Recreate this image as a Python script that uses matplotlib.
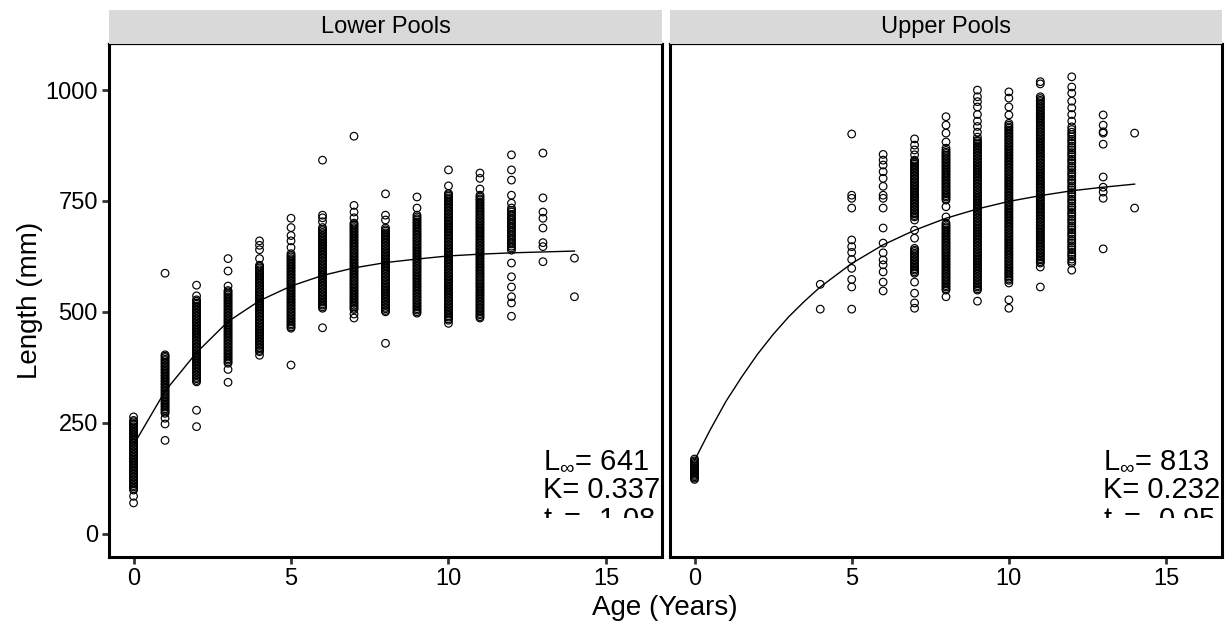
import numpy as np
import matplotlib
matplotlib.use("Agg")
import matplotlib.pyplot as plt
from matplotlib.patches import Rectangle

plt.rcParams['font.family'] = ['Liberation Sans', 'DejaVu Sans']
plt.rcParams['mathtext.fontset'] = 'custom'
plt.rcParams['mathtext.rm'] = 'Liberation Sans'
plt.rcParams['mathtext.it'] = 'Liberation Sans:italic'

# 面板名称
panels = ['Lower Pools', 'Upper Pools']

# 各年龄的体长观测值 (mm)，按年龄 0..14 排列
lower_lengths = [
    # 0
    [69, 84, 98, 101, 105, 108, 112, 115, 119, 122, 126, 129, 133, 136, 140, 143, 147, 150, 154, 157,
     161, 164, 168, 171, 175, 178, 182, 185, 189, 192, 196, 199, 203, 206, 210, 213, 217, 220, 224,
     227, 231, 234, 238, 241, 245, 248, 252, 255, 263],
    # 1
    [210, 247, 260, 271, 274, 278, 281, 285, 288, 292, 295, 299, 302, 306, 309, 313, 316, 320, 323,
     327, 330, 334, 337, 341, 344, 348, 351, 355, 358, 362, 365, 369, 372, 376, 379, 383, 386, 390,
     393, 397, 400, 403, 587],
    # 2
    [241, 278, 342, 345, 349, 352, 356, 359, 363, 366, 370, 373, 377, 380, 384, 387, 391, 394, 398,
     401, 405, 408, 412, 415, 419, 422, 426, 429, 433, 436, 440, 443, 447, 450, 454, 457, 461, 464,
     468, 471, 475, 478, 482, 485, 489, 492, 496, 499, 503, 506, 510, 513, 517, 520, 524, 527, 536, 560],
    # 3
    [341, 370, 384, 387, 391, 394, 398, 401, 405, 408, 412, 415, 419, 422, 426, 429, 433, 436, 440,
     443, 447, 450, 454, 457, 461, 464, 468, 471, 475, 478, 482, 485, 489, 492, 496, 499, 503, 506,
     510, 513, 517, 520, 524, 527, 531, 534, 538, 541, 545, 548, 558, 592, 620],
    # 4
    [402, 410, 413, 417, 420, 424, 427, 431, 434, 438, 441, 445, 448, 452, 455, 459, 462, 466, 469,
     473, 476, 480, 483, 487, 490, 494, 497, 501, 504, 508, 511, 515, 518, 522, 525, 529, 532, 536,
     539, 543, 546, 550, 553, 557, 560, 564, 567, 571, 574, 578, 581, 585, 588, 592, 595, 599, 602,
     605, 620, 640, 650, 660],
    # 5
    [380, 463, 466, 470, 473, 477, 480, 484, 487, 491, 494, 498, 501, 505, 508, 512, 515, 519, 522,
     526, 529, 533, 536, 540, 543, 547, 550, 554, 557, 561, 564, 568, 571, 575, 578, 582, 585, 589,
     592, 596, 599, 603, 606, 610, 613, 617, 620, 624, 627, 631, 645, 660, 672, 690, 711],
    # 6
    [464, 508, 511, 515, 518, 522, 525, 529, 532, 536, 539, 543, 546, 550, 553, 557, 560, 564, 567,
     571, 574, 578, 581, 585, 588, 592, 595, 599, 602, 606, 609, 613, 616, 620, 623, 627, 630, 634,
     637, 641, 644, 648, 651, 655, 658, 662, 665, 669, 672, 676, 679, 683, 686, 690, 703, 712, 718, 842],
    # 7
    [486, 495, 505, 508, 512, 515, 519, 522, 526, 529, 533, 536, 540, 543, 547, 550, 554, 557, 561,
     564, 568, 571, 575, 578, 582, 585, 589, 592, 596, 599, 603, 606, 610, 613, 617, 620, 624, 627,
     631, 634, 638, 641, 645, 648, 652, 655, 659, 662, 666, 669, 673, 676, 680, 683, 687, 690, 694,
     697, 700, 712, 725, 740, 896],
    # 8
    [429, 500, 503, 507, 510, 514, 517, 521, 524, 528, 531, 535, 538, 542, 545, 549, 552, 556, 559,
     563, 566, 570, 573, 577, 580, 584, 587, 591, 594, 598, 601, 605, 608, 612, 615, 619, 622, 626,
     629, 633, 636, 640, 643, 647, 650, 654, 657, 661, 664, 668, 671, 675, 678, 682, 685, 689, 707,
     718, 766],
    # 9
    [497, 500, 504, 507, 511, 514, 518, 521, 525, 528, 532, 535, 539, 542, 546, 549, 553, 556, 560,
     563, 567, 570, 574, 577, 581, 584, 588, 591, 595, 598, 602, 605, 609, 612, 616, 619, 623, 626,
     630, 633, 637, 640, 644, 647, 651, 654, 658, 661, 665, 668, 672, 675, 679, 682, 686, 689, 693,
     696, 700, 703, 707, 710, 714, 718, 734, 759],
    # 10
    [474, 481, 484, 488, 491, 495, 498, 502, 505, 509, 512, 516, 519, 523, 526, 530, 533, 537, 540,
     544, 547, 551, 554, 558, 561, 565, 568, 572, 575, 579, 582, 586, 589, 593, 596, 600, 603, 607,
     610, 614, 617, 621, 624, 628, 631, 635, 638, 642, 645, 649, 652, 656, 659, 663, 666, 670, 673,
     677, 680, 684, 687, 691, 694, 698, 701, 705, 708, 712, 715, 719, 722, 726, 729, 733, 736, 740,
     743, 747, 750, 754, 757, 761, 764, 767, 784, 820],
    # 11
    [486, 489, 493, 496, 500, 503, 507, 510, 514, 517, 521, 524, 528, 531, 535, 538, 542, 545, 549,
     552, 556, 559, 563, 566, 570, 573, 577, 580, 584, 587, 591, 594, 598, 601, 605, 608, 612, 615,
     619, 622, 626, 629, 633, 636, 640, 643, 647, 650, 654, 657, 661, 664, 668, 671, 675, 678, 682,
     685, 689, 692, 696, 699, 703, 706, 710, 713, 717, 720, 724, 727, 731, 734, 738, 741, 745, 748,
     752, 755, 759, 763, 777, 801, 813],
    # 12
    [490, 520, 534, 556, 579, 610, 639, 644, 648, 653, 657, 662, 666, 671, 675, 680, 684, 689, 693,
     698, 702, 707, 711, 716, 720, 725, 729, 734, 745, 763, 797, 820, 854],
    # 13
    [613, 647, 656, 689, 711, 725, 757, 858],
    # 14
    [534, 621],
]

upper_lengths = [
    # 0
    [122, 125, 128, 131, 134, 137, 140, 143, 146, 149, 152, 155, 158, 161, 164, 168],
    [],
    [],
    [],
    # 4
    [506, 562],
    # 5
    [506, 556, 573, 598, 618, 634, 647, 662, 734, 756, 763, 901],
    # 6
    [547, 567, 590, 606, 617, 633, 655, 689, 734, 756, 763, 783, 801, 816, 831, 842, 855],
    # 7
    [508, 520, 542, 567, 587, 590, 594, 597, 601, 604, 608, 611, 615, 618, 622, 625, 629, 632, 636,
     639, 643, 666, 684, 707, 714, 717, 721, 724, 728, 731, 735, 738, 742, 745, 749, 752, 756, 759,
     763, 766, 770, 773, 777, 780, 784, 787, 791, 794, 798, 801, 805, 808, 812, 815, 819, 822, 826,
     829, 833, 836, 840, 842, 854, 865, 876, 890],
    # 8
    [534, 549, 552, 556, 559, 563, 566, 570, 573, 577, 580, 584, 587, 591, 594, 598, 601, 605, 608,
     612, 615, 619, 622, 626, 629, 633, 636, 640, 643, 647, 650, 654, 657, 661, 664, 668, 671, 675,
     678, 682, 685, 689, 692, 696, 700, 714, 737, 752, 755, 759, 762, 766, 769, 773, 776, 780, 783,
     787, 790, 794, 797, 801, 804, 808, 811, 815, 818, 822, 825, 829, 832, 836, 839, 843, 846, 850,
     853, 857, 860, 864, 869, 883, 903, 921, 940],
    # 9
    [524, 549, 552, 556, 559, 563, 566, 570, 573, 577, 580, 584, 587, 591, 594, 598, 601, 605, 608,
     612, 615, 619, 622, 626, 629, 633, 636, 640, 643, 647, 650, 654, 657, 661, 664, 668, 671, 675,
     678, 682, 685, 689, 692, 696, 699, 703, 706, 710, 713, 717, 720, 724, 727, 731, 734, 738, 741,
     745, 748, 752, 755, 759, 762, 766, 769, 773, 776, 780, 783, 787, 790, 794, 797, 801, 804, 808,
     811, 815, 818, 822, 825, 829, 832, 836, 839, 843, 846, 850, 853, 857, 860, 864, 867, 871, 874,
     878, 881, 885, 887, 894, 905, 918, 930, 945, 962, 974, 985, 1000],
    # 10
    [508, 527, 565, 571, 574, 578, 581, 585, 588, 592, 595, 599, 602, 606, 609, 613, 616, 620, 623,
     627, 630, 634, 637, 641, 644, 648, 651, 655, 658, 662, 665, 669, 672, 676, 679, 683, 686, 690,
     693, 697, 700, 704, 707, 711, 714, 718, 721, 725, 728, 732, 735, 739, 742, 746, 749, 753, 756,
     760, 763, 767, 770, 774, 777, 781, 784, 788, 791, 795, 798, 802, 805, 809, 812, 816, 819, 823,
     826, 830, 833, 837, 840, 844, 847, 851, 854, 858, 861, 865, 868, 872, 875, 879, 882, 886, 889,
     893, 896, 900, 903, 907, 910, 914, 917, 921, 925, 944, 962, 982, 996],
    # 11
    [556, 601, 610, 613, 617, 620, 624, 627, 631, 634, 638, 641, 645, 648, 652, 655, 659, 662, 666,
     669, 673, 676, 680, 683, 687, 690, 694, 697, 701, 704, 708, 711, 715, 718, 722, 725, 729, 732,
     736, 739, 743, 746, 750, 753, 757, 760, 764, 767, 771, 774, 778, 781, 785, 788, 792, 795, 799,
     802, 806, 809, 813, 816, 820, 823, 827, 830, 834, 837, 841, 844, 848, 851, 855, 858, 862, 865,
     869, 872, 876, 879, 883, 886, 890, 893, 897, 900, 904, 907, 911, 914, 918, 921, 925, 928, 932,
     935, 939, 942, 946, 949, 953, 956, 960, 963, 967, 970, 974, 977, 981, 985, 1014, 1019],
    # 12
    [594, 610, 614, 619, 625, 629, 634, 640, 645, 649, 655, 660, 664, 670, 675, 679, 685, 690, 694,
     700, 705, 709, 715, 720, 724, 730, 735, 739, 745, 750, 754, 760, 765, 769, 775, 780, 784, 790,
     795, 799, 805, 810, 814, 820, 825, 829, 835, 840, 844, 850, 855, 859, 865, 870, 874, 880, 885,
     889, 895, 900, 905, 911, 917, 930, 945, 960, 975, 993, 1007, 1030],
    # 13
    [642, 756, 770, 781, 804, 878, 903, 906, 921, 944],
    # 14
    [734, 903],
]

# 拟合的 von Bertalanffy 曲线
lower_fit_age = [0, 1, 2, 3, 4, 5, 6, 7, 8, 9, 10, 11, 12, 13, 14]
lower_fit = [200, 321, 408, 478, 525, 558, 582, 599, 611, 619, 626, 630, 633, 635, 637]
upper_fit_age = [0, 0.5, 1, 1.5, 2, 2.5, 3, 3.5, 4, 5, 6, 7, 8, 9, 10, 11, 12, 13, 14]
upper_fit = [165, 234, 298, 353, 404, 449, 489, 524, 556, 609, 651, 684, 711, 732, 749, 762, 773, 781, 788]

# 参数标注
lower_params = [r'$\mathrm{L}_{\infty}$= 641', 'K= 0.337', r'$\mathrm{t}_{0}$= -1.08']
upper_params = [r'$\mathrm{L}_{\infty}$= 813', 'K= 0.232', r'$\mathrm{t}_{0}$= -0.95']

x_ticks = [0, 5, 10, 15]
y_ticks = [0, 250, 500, 750, 1000]


def draw_panel(fig, rect, title, lengths, fit_age, fit, params):
    ax = fig.add_axes(rect)
    for age, vals in enumerate(lengths):
        if len(vals) == 0:
            continue
        ax.scatter([age] * len(vals), vals, s=30, facecolors='none',
                   edgecolors='black', linewidths=0.85, zorder=2)
    ax.plot(fit_age, fit, color='black', linewidth=1.0, zorder=3)

    ax.set_xlim(-0.78, 16.78)
    ax.set_ylim(-53, 1104)
    ax.set_xticks(x_ticks)
    ax.set_yticks(y_ticks)
    ax.tick_params(axis='both', length=5, width=2, color='#333333',
                   labelsize=17, labelcolor='black', pad=3)
    for side in ['left', 'bottom', 'right']:
        ax.spines[side].set_linewidth(2.2)
    ax.spines['top'].set_linewidth(1.6)

    # 参数文字，底部被裁掉
    clip = Rectangle((-5, 34.5), 40, 5000, transform=ax.transData)
    for txt, yv in zip(params, [147, 80, 12]):
        t = ax.text(13.0, yv, txt, fontsize=21, ha='left', va='baseline',
                    clip_on=True, zorder=1)
        t.set_clip_path(clip)

    # 面板标题条
    x0, y0, w, h = rect
    strip_h = 34 / 625
    sax = fig.add_axes([x0, y0 + h, w, strip_h])
    sax.set_facecolor('#D9D9D9')
    sax.set_xticks([])
    sax.set_yticks([])
    for s in sax.spines.values():
        s.set_visible(False)
    sax.text(0.5, 0.5, title, fontsize=17, ha='center', va='center',
             transform=sax.transAxes)
    return ax


fig = plt.figure(figsize=(12.3, 6.25), dpi=100)

ax1 = draw_panel(fig, [109 / 1230, 68 / 625, 553 / 1230, 513 / 625],
                 panels[0], lower_lengths, lower_fit_age, lower_fit, lower_params)
ax2 = draw_panel(fig, [670 / 1230, 68 / 625, 552 / 1230, 513 / 625],
                 panels[1], upper_lengths, upper_fit_age, upper_fit, upper_params)
ax2.set_yticklabels([])
ax2.tick_params(axis='y', length=0)

fig.text(30 / 1230, 1 - 300 / 625, 'Length (mm)', rotation=90, fontsize=20,
         ha='center', va='center')
fig.text(665 / 1230, 1 - 608 / 625, 'Age (Years)', fontsize=20,
         ha='center', va='center')

fig.savefig('out.png', dpi=100)
